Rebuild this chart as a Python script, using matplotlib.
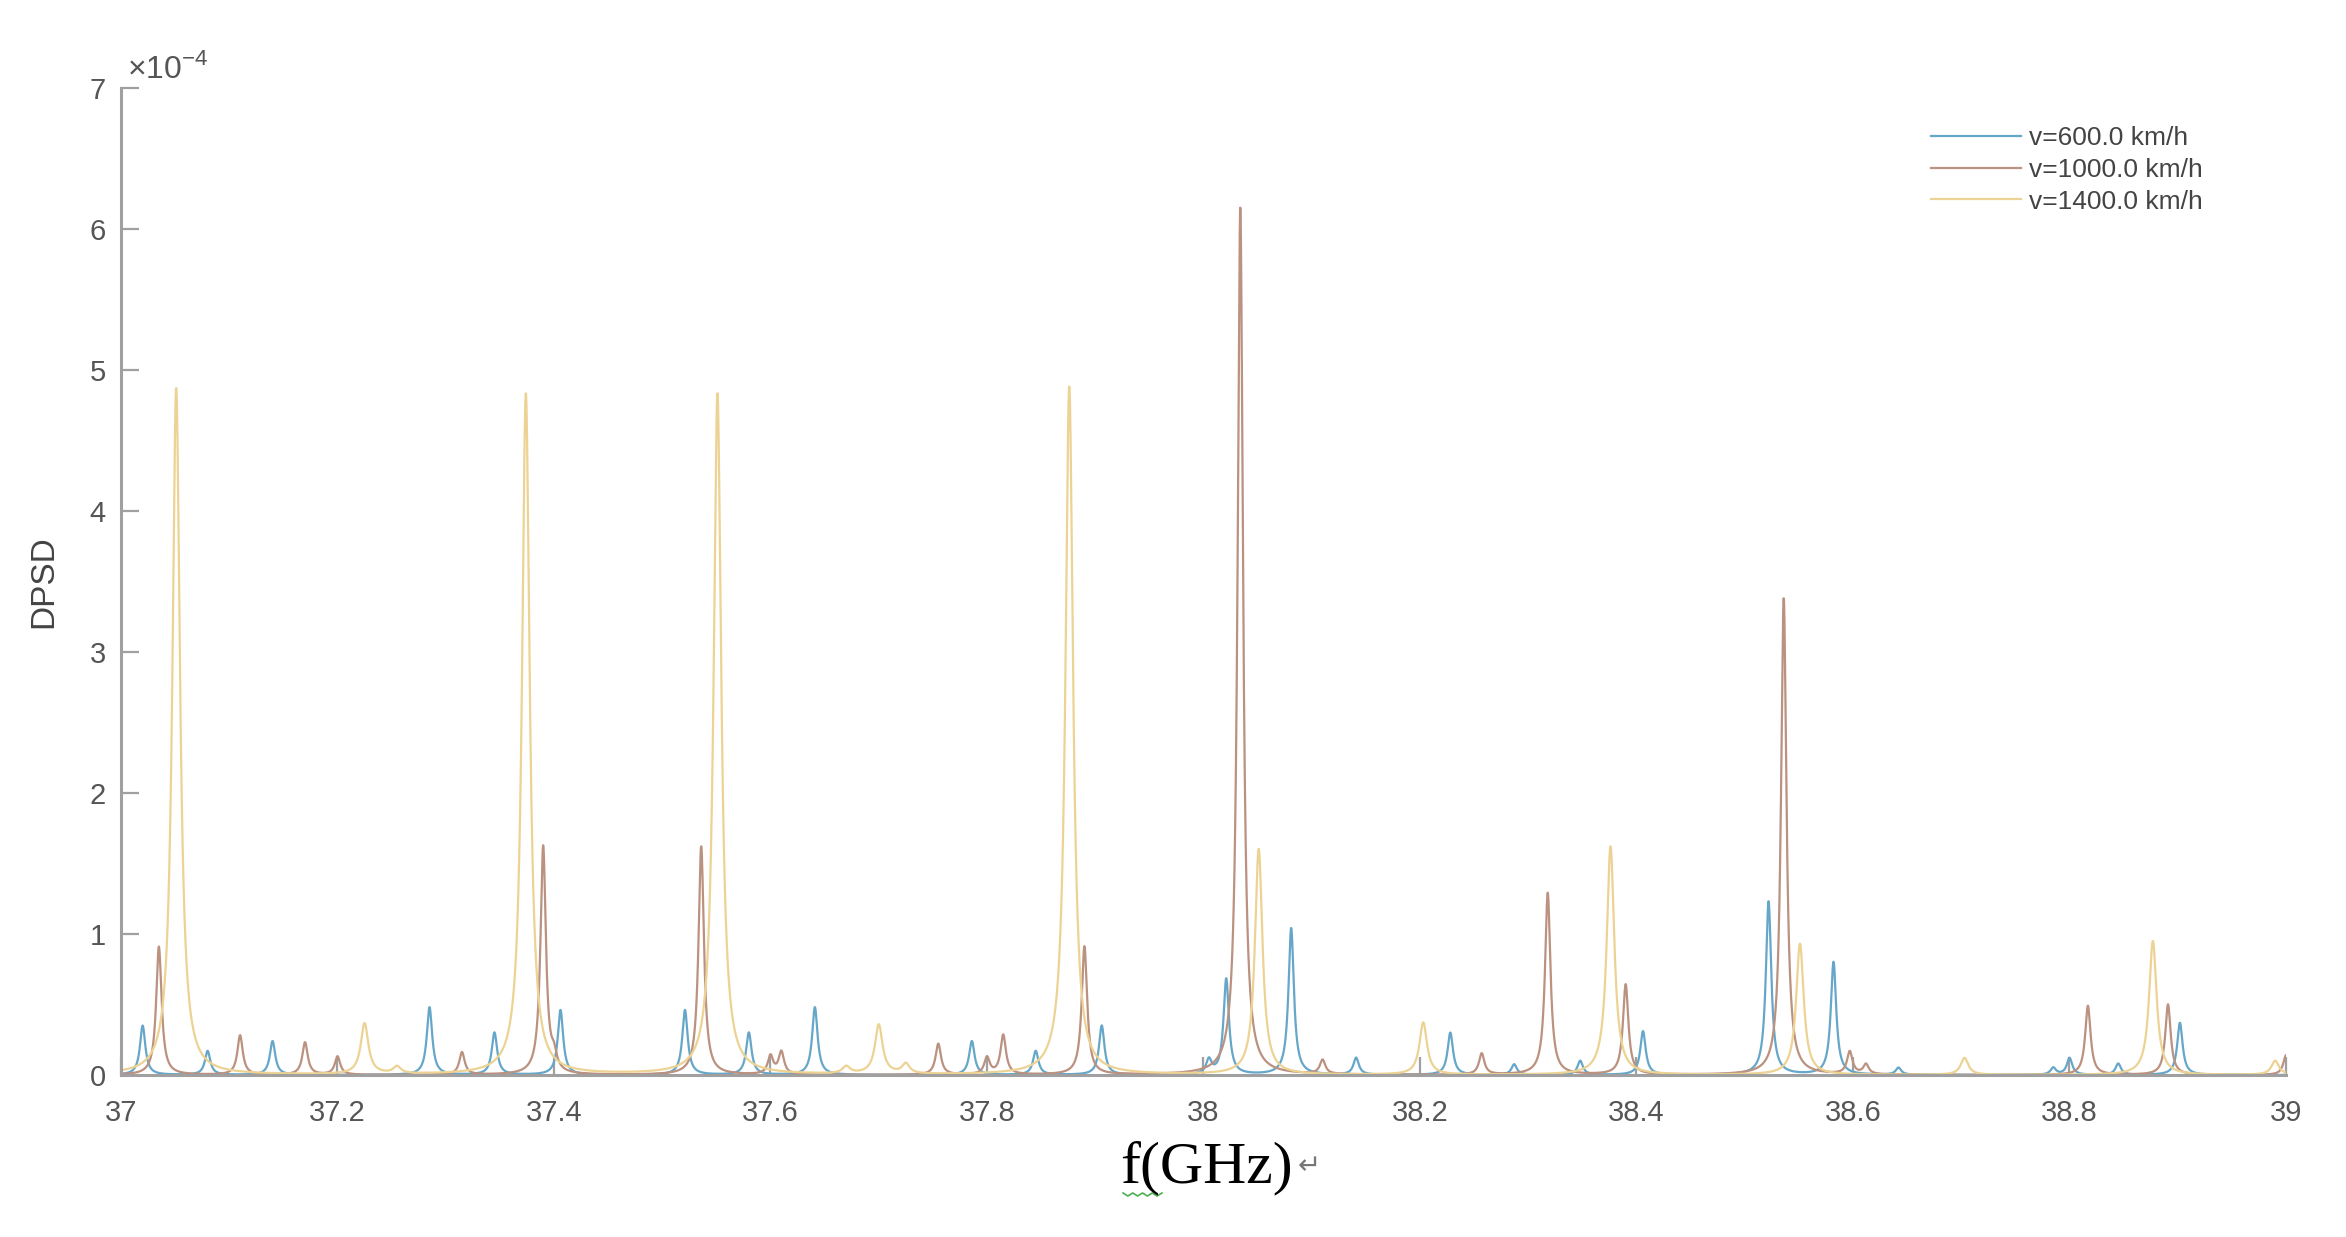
import numpy as np
import matplotlib.pyplot as plt
from matplotlib.lines import Line2D

plt.rcParams['font.family'] = ['Liberation Sans', 'DejaVu Sans']
plt.rcParams['mathtext.fontset'] = 'custom'
plt.rcParams['mathtext.rm'] = 'Liberation Sans'

# peak centres (GHz) and heights (x1e-4)
f_600 = [37.02, 37.08, 37.14, 37.285, 37.345, 37.406, 37.521, 37.58, 37.641,
         37.786, 37.845, 37.906, 38.005, 38.021, 38.081, 38.141, 38.228,
         38.287, 38.348, 38.406, 38.522, 38.582, 38.642, 38.785, 38.80,
         38.845, 38.902]
h_600 = [0.35, 0.17, 0.24, 0.48, 0.30, 0.46, 0.46, 0.30, 0.48,
         0.24, 0.17, 0.35, 0.10, 0.68, 1.04, 0.12, 0.30,
         0.075, 0.10, 0.31, 1.23, 0.80, 0.05, 0.05, 0.12,
         0.08, 0.37]

f_1000 = [37.035, 37.11, 37.17, 37.20, 37.315, 37.39, 37.40, 37.536, 37.60,
          37.61, 37.755, 37.80, 37.815, 37.89, 38.034, 38.11, 38.257, 38.318,
          38.39, 38.536, 38.597, 38.612, 38.817, 38.891, 39.0]
h_1000 = [0.91, 0.28, 0.23, 0.13, 0.16, 1.62, 0.10, 1.62, 0.13,
          0.16, 0.22, 0.12, 0.28, 0.91, 6.15, 0.10, 0.15, 1.29,
          0.64, 3.38, 0.16, 0.07, 0.49, 0.50, 0.14]

f_1400 = [37.051, 37.225, 37.255, 37.374, 37.551, 37.67, 37.70, 37.725,
          37.876, 38.051, 38.203, 38.376, 38.551, 38.703, 38.877, 38.99]
h_1400 = [4.87, 0.36, 0.05, 4.83, 4.83, 0.05, 0.35, 0.07,
          4.88, 1.60, 0.37, 1.62, 0.93, 0.12, 0.95, 0.10]

# half widths of the lines (GHz)
w_600, w_1000, w_1400 = 0.0030, 0.0030, 0.0042

labels = ["v=600.0 km/h", "v=1000.0 km/h", "v=1400.0 km/h"]
colors = ["#66a7c9", "#bb9180", "#ecd394"]

x_ticks = np.arange(37, 39.01, 0.2)
y_ticks = np.arange(0, 8)


def spectrum(f, centres, heights, w):
    y = np.zeros_like(f)
    for c, h in zip(centres, heights):
        y += h / (1 + ((f - c) / w) ** 2)
    return y * 1e-4


f = np.linspace(37, 39, 12001)
series = [(f_600, h_600, w_600), (f_1000, h_1000, w_1000), (f_1400, h_1400, w_1400)]

fig = plt.figure(figsize=(23.46, 12.37), dpi=100)
ax = fig.add_axes([121 / 2346, 1 - 1075 / 1237, 2165 / 2346, 987 / 1237])

for (c, h, w), lab, col in zip(series, labels, colors):
    ax.plot(f, spectrum(f, c, h, w), color=col, lw=1.6, label=lab)

ax.set_xlim(37, 39)
ax.set_ylim(0, 7e-4)
ax.set_xticks(x_ticks)
ax.set_xticklabels([f"{t:g}" for t in np.round(x_ticks, 1)])
ax.set_yticks(y_ticks * 1e-4)
ax.set_yticklabels([str(t) for t in y_ticks])

for s in ['top', 'right']:
    ax.spines[s].set_visible(False)
for s in ['left', 'bottom']:
    ax.spines[s].set_color('#a0a0a0')
    ax.spines[s].set_linewidth(2.2)
ax.tick_params(direction='in', length=13, width=1.6, color='#a0a0a0',
               labelcolor='#555555', labelsize=21)
ax.tick_params(axis='x', pad=17)
ax.tick_params(axis='y', pad=11)

ax.text(0.003, 1.01, r'$\times10^{-4}$', transform=ax.transAxes,
        fontsize=23, color='#555555', va='baseline', ha='left')

ax.set_ylabel("DPSD", fontsize=24, color='#444444', labelpad=22)

fig.text(1206 / 2346, 1 - 1168 / 1237, "f(GHz)", family='Liberation Serif',
         fontsize=43, color='black', ha='center', va='center')
fig.text(1309 / 2346, 1 - 1166 / 1237, "\u21b5", family='DejaVu Sans',
         fontsize=20, color='#777777', ha='center', va='center')
# green spell-check squiggle under "f("
sx = np.linspace(1123, 1162, 9) / 2346
sy = 1 - (1193 + np.tile([0, 3], 5)[:9]) / 1237
fig.add_artist(Line2D(sx, sy, color='#4caf50', lw=1.2))

ax.legend(loc='upper left', bbox_to_anchor=(0.83, 0.975), frameon=False,
          fontsize=19, handlelength=3.4, handletextpad=0.3, labelspacing=0.3,
          borderpad=0, labelcolor='#444444')

fig.savefig("out.png", dpi=100)
